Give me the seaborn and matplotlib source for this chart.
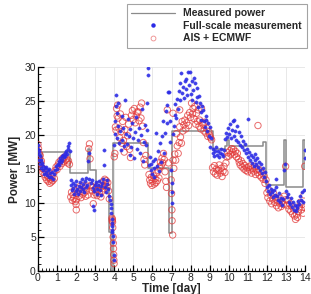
import matplotlib
matplotlib.use("Agg")
import matplotlib.pyplot as plt
import seaborn as sns
import pandas as pd
from matplotlib.ticker import MultipleLocator
from matplotlib.lines import Line2D

# ---------------- data ----------------
step_time = [0.0, 0.2, 1.68, 2.62, 2.75, 3.02, 3.72, 3.84, 3.93, 5.77, 6.88, 7.0,
             9.15, 9.8, 9.92, 10.02, 11.82, 11.97, 12.9, 12.98, 13.88, 13.97, 14.0]
step_power = [15.3, 17.5, 14.4, 18.0, 14.9, 12.2, 5.7, 0.0, 18.8, 15.2, 5.6, 20.6,
              17.9, 18.4, 19.3, 18.4, 19.0, 12.7, 19.3, 12.3, 19.2, 15.0, 15.0]

fs_time = [
    0.00, 0.02, 0.04, 0.06, 0.08, 0.10, 0.12, 0.15, 0.18, 0.21, 0.25, 0.28, 0.32, 0.36, 0.40,
    0.44, 0.48, 0.52, 0.56, 0.60, 0.65, 0.70, 0.75, 0.80, 0.85, 0.90, 0.95, 1.00, 1.04, 1.08,
    1.12, 1.16, 1.20, 1.24, 1.28, 1.32, 1.36, 1.40, 1.44, 1.48, 1.52, 1.56, 1.60, 1.64, 1.67,
    1.72, 1.75, 1.78, 1.82, 1.86, 1.90, 1.94, 1.98, 2.02, 2.06, 2.10, 2.14, 2.18, 2.22, 2.26,
    2.30, 2.34, 2.38, 2.42, 2.46, 2.50, 2.54, 2.58, 2.62, 2.66, 2.70,
    2.78, 2.82, 2.86, 2.90, 2.92, 2.95, 3.00, 3.04, 3.08, 3.12, 3.16, 3.20, 3.24, 3.28, 3.32,
    3.36, 3.40, 3.44, 3.48, 3.52, 3.56, 3.60, 3.64, 3.68, 3.72, 3.76,
    3.82, 3.84, 3.85, 3.86, 3.87, 3.88, 3.89, 3.90, 3.92, 3.94, 3.96, 3.97,
    4.00, 4.03, 4.06, 4.08, 4.10, 4.13, 4.16, 4.19, 4.22, 4.26, 4.30, 4.34, 4.38, 4.42, 4.46,
    4.50, 4.55, 4.60, 4.65, 4.70, 4.75, 4.80, 4.85, 4.90, 4.95, 5.00, 5.05, 5.10, 5.15, 5.20,
    5.25, 5.30, 5.35, 5.40, 5.45, 5.50, 5.55, 5.60, 5.65, 5.70, 5.74, 5.77, 5.78,
    5.82, 5.86, 5.90, 5.94, 5.98, 6.02, 6.06, 6.10, 6.15, 6.20, 6.25, 6.30, 6.35, 6.40, 6.45,
    6.50, 6.55, 6.60, 6.65, 6.70, 6.74, 6.78, 6.82, 6.87, 6.90, 6.93,
    6.98, 7.00, 7.02, 7.05,
    7.08, 7.12, 7.16, 7.20, 7.25, 7.30, 7.35, 7.40, 7.43, 7.47, 7.52, 7.56, 7.61, 7.65, 7.70,
    7.74, 7.78, 7.82, 7.87, 7.91, 7.96, 8.00, 8.05, 8.09, 8.13, 8.18, 8.22, 8.27, 8.31, 8.36,
    8.40, 8.44, 8.48, 8.52, 8.57, 8.61, 8.65, 8.70, 8.74, 8.79, 8.83, 8.88, 8.92, 8.96, 9.00,
    9.04, 9.08,
    9.15, 9.20, 9.25, 9.30, 9.35, 9.40, 9.45, 9.50, 9.55, 9.60, 9.65, 9.70, 9.75, 9.80, 9.85,
    9.90, 9.95, 10.00, 10.05, 10.10, 10.15, 10.20, 10.25, 10.30, 10.35, 10.40, 10.45, 10.50,
    10.55, 10.60, 10.65, 10.70, 10.75, 10.80, 10.85, 10.90, 11.01,
    10.95, 11.00, 11.05, 11.10, 11.15, 11.20, 11.25, 11.30, 11.35, 11.40, 11.45, 11.50, 11.55,
    11.60, 11.65, 11.70, 11.75, 11.80, 11.85, 11.90, 11.95,
    12.00, 12.05, 12.10, 12.15, 12.20, 12.25, 12.30, 12.35, 12.40, 12.45, 12.50, 12.55, 12.60,
    12.65, 12.70, 12.75, 12.80, 12.85, 12.90, 12.95, 13.00, 13.05, 13.10, 13.15, 13.20, 13.25,
    13.30, 13.35, 13.40, 13.45, 13.50, 13.55, 13.60, 13.65, 13.70, 13.75, 13.80, 13.85, 13.90,
    13.95, 13.98, 13.99,
]
fs_power = [
    17.9, 18.6, 17.2, 16.4, 17.6, 16.9, 15.8, 16.3, 15.2, 15.9, 14.8, 15.5, 14.3, 15.1, 14.6,
    15.3, 14.1, 14.9, 13.9, 15.0, 14.4, 13.8, 14.6, 13.6, 14.2, 14.8, 15.4, 15.0, 15.8, 16.2,
    15.6, 16.6, 16.1, 16.9, 16.4, 17.1, 16.7, 17.4, 16.9, 17.7, 17.2, 18.0, 18.4, 18.8, 17.6,
    13.4, 12.6, 11.9, 13.0, 12.2, 11.4, 12.7, 11.8, 13.3, 12.1, 11.3, 12.5, 13.1, 11.7, 12.4,
    13.6, 12.0, 12.8, 11.6, 13.2, 12.3, 13.7, 12.6, 16.2, 17.4, 13.5,
    12.9, 13.4, 12.2, 9.6, 9.0, 11.8, 12.6, 13.1, 12.0, 11.4, 12.7, 13.3, 11.9, 12.5, 11.2,
    12.9, 13.6, 15.6, 17.8, 12.3, 11.6, 12.8, 13.4, 12.1, 11.0, 10.4,
    9.8, 9.3, 8.6, 7.6, 7.0, 6.6, 6.1, 5.8, 5.1, 4.3, 2.4, 1.6,
    18.5, 20.2, 22.1, 24.2, 25.9, 23.3, 19.6, 24.7, 21.4, 18.9, 20.6, 17.8, 22.8, 19.3, 21.0,
    18.4, 25.1, 20.1, 18.7, 22.3, 19.8, 17.1, 20.9, 18.2, 21.7, 19.5, 16.6, 20.4, 22.6, 18.0,
    19.2, 21.1, 17.4, 20.0, 23.8, 16.2, 19.0, 21.5, 18.6, 20.7, 24.7, 28.9, 29.9,
    15.6, 16.8, 14.9, 15.8, 14.3, 16.2, 15.1, 13.9, 16.5, 20.3, 15.4, 17.6, 14.7, 18.9, 16.1,
    19.8, 22.1, 17.3, 20.3, 23.6, 21.7, 24.4, 26.4, 26.3, 22.0, 19.0,
    14.9, 13.0, 11.6, 10.0,
    20.2, 21.4, 23.0, 24.6, 22.5, 25.3, 23.8, 26.5, 25.1, 27.6, 29.1, 26.2, 27.1, 25.4, 28.0,
    26.8, 28.3, 25.9, 29.3, 27.4, 29.2, 26.1, 27.9, 25.2, 26.6, 28.4, 27.6, 24.9, 25.6, 26.9,
    24.1, 25.8, 24.7, 22.2, 23.4, 24.3, 23.7, 22.0, 21.2, 22.8, 22.2, 20.6, 21.7, 19.8, 21.2,
    18.3, 19.5,
    17.3, 17.9, 16.9, 17.6, 18.2, 17.0, 17.7, 16.8, 17.4, 18.0, 17.2, 16.9, 17.8, 19.4, 20.3,
    19.7, 21.0, 20.1, 21.6, 19.5, 20.8, 22.0, 19.9, 22.2, 20.6, 19.3, 21.3, 19.0,
    20.4, 18.6, 19.8, 18.2, 19.1, 17.8, 18.7, 17.4, 22.4,
    17.9, 16.8, 17.5, 16.3, 17.1, 15.9, 16.7, 15.5, 16.4, 17.2, 15.8, 16.6, 15.3,
    16.1, 14.9, 15.7, 14.4, 15.2, 13.9, 14.6, 13.2,
    12.4, 11.8, 12.6, 11.3, 12.1, 11.6, 10.9, 11.9, 11.2, 12.3, 13.6, 11.0, 10.4,
    11.5, 10.1, 10.8, 9.7, 10.6, 14.9, 15.8, 11.7, 10.9, 11.4, 10.2, 9.8, 10.7,
    9.4, 10.1, 9.0, 9.7, 8.8, 9.5, 9.2, 10.3, 9.9, 11.0, 10.5, 11.6, 10.2,
    11.9, 17.8, 16.6,
]

ais_time = [
    0.00, 0.03, 0.06, 0.09, 0.12, 0.15, 0.18, 0.22, 0.26, 0.30, 0.34, 0.38, 0.42, 0.46, 0.50,
    0.54, 0.58, 0.62, 0.66, 0.70, 0.74, 0.78, 0.82, 0.86, 0.90, 0.95, 1.00, 1.05, 1.10, 1.15,
    1.20, 1.25, 1.30, 1.35, 1.40, 1.45, 1.50, 1.55, 1.60, 1.65,
    1.72, 1.76, 1.80, 1.84, 1.88, 1.92, 1.96, 2.00, 2.01, 2.02, 2.06, 2.10, 2.14, 2.18, 2.22,
    2.26, 2.30, 2.34, 2.38, 2.42, 2.46, 2.50, 2.54, 2.58, 2.62, 2.66, 2.70, 2.73,
    2.78, 2.82, 2.86, 2.90, 2.94, 2.98, 3.02, 3.06, 3.10, 3.14, 3.18, 3.22, 3.26, 3.30, 3.34,
    3.38, 3.42, 3.46, 3.50, 3.54, 3.58, 3.62, 3.66, 3.70, 3.74,
    3.88, 3.89, 3.90, 3.91, 3.92, 3.94, 3.95, 3.96, 3.97, 3.98, 3.99,
    4.00, 4.03, 4.06, 4.09, 4.12, 4.15, 4.18, 4.21, 4.24, 4.28, 4.32, 4.36, 4.40, 4.44, 4.48,
    4.52, 4.56, 4.60, 4.65, 4.70, 4.75, 4.80, 4.85, 4.90, 4.95, 5.00, 5.05, 5.10, 5.15, 5.20,
    5.25, 5.30, 5.35, 5.40, 5.43, 5.48, 5.52, 5.56, 5.60, 5.65,
    5.82, 5.86, 5.90, 5.94, 5.98, 6.02, 6.06, 6.10, 6.14, 6.18, 6.22, 6.26, 6.30, 6.34, 6.38,
    6.42, 6.46, 6.50, 6.54, 6.58, 6.62, 6.66, 6.70, 6.74, 6.78, 6.84,
    6.98, 7.00, 7.02, 7.03, 7.06,
    7.08, 7.12, 7.17, 7.22, 7.26, 7.30, 7.35, 7.40, 7.43, 7.47, 7.52, 7.56, 7.60, 7.65, 7.70,
    7.75, 7.80, 7.85, 7.90, 7.95, 8.00, 8.05, 8.10, 8.13, 8.18, 8.22, 8.27, 8.31, 8.36, 8.40,
    8.44, 8.48, 8.53, 8.57, 8.62, 8.66, 8.70, 8.75, 8.80, 8.85, 8.90, 8.95, 9.00, 9.05, 9.10,
    7.08, 7.43,
    9.15, 9.20, 9.25, 9.30, 9.35, 9.40, 9.45, 9.50, 9.55, 9.60, 9.65, 9.70, 9.75, 9.80, 9.85,
    9.90, 9.95, 10.00, 10.05, 10.10, 10.15, 10.20, 10.25, 10.30, 10.35, 10.40, 10.45, 10.50,
    10.55, 10.60, 10.65, 10.70, 10.75, 10.80, 10.85, 10.90,
    10.95, 11.00, 11.05, 11.10, 11.15, 11.20, 11.25, 11.30, 11.35, 11.40, 11.45, 11.50, 11.53,
    11.55, 11.60, 11.65, 11.70, 11.75, 11.80, 11.85, 11.90, 11.95,
    12.00, 12.05, 12.10, 12.15, 12.20, 12.25, 12.30, 12.35, 12.40, 12.45, 12.50, 12.55, 12.60,
    12.65, 12.70, 12.75, 12.80, 12.85, 12.90, 12.98, 13.00, 13.05, 13.10, 13.15, 13.20, 13.25,
    13.30, 13.35, 13.40, 13.45, 13.50, 13.55, 13.60, 13.65, 13.70, 13.75, 13.80, 13.85, 13.90,
    13.95, 13.98, 13.99,
]
ais_power = [
    18.6, 18.0, 17.3, 16.5, 17.0, 15.8, 16.2, 15.1, 14.5, 15.0, 14.2, 13.8, 14.6, 13.4, 14.0,
    13.2, 13.7, 12.9, 13.5, 13.1, 13.9, 13.3, 14.4, 13.6, 14.8, 15.3, 14.9, 15.6, 16.0, 15.4,
    16.3, 15.8, 16.6, 16.1, 16.8, 16.3, 16.5, 15.9, 16.2, 15.7,
    10.9, 11.6, 10.4, 11.2, 10.7, 11.9, 10.2, 9.8, 9.0, 10.5, 11.4, 12.1, 11.0, 12.4, 11.7,
    10.8, 12.0, 11.3, 12.6, 11.5, 12.2, 11.0, 11.8, 12.5, 11.2, 18.0, 18.7, 16.5,
    12.6, 11.8, 12.3, 9.9, 11.2, 12.0, 11.5, 12.4, 11.1, 11.9, 12.7, 11.4, 12.2, 10.9, 11.7,
    12.5, 13.2, 12.1, 13.5, 12.8, 13.3, 12.4, 13.0, 11.8, 10.6,
    7.8, 7.4, 7.6, 7.2, 6.4, 5.0, 4.1, 3.3, 2.4, 1.6, 1.1,
    16.8, 17.3, 21.2, 20.7, 23.9, 22.8, 24.4, 22.5, 21.0, 19.6, 23.1, 20.5, 18.8, 22.0, 19.2,
    17.5, 20.8, 22.6, 18.3, 19.9, 21.6, 17.9, 16.7, 22.9, 23.6, 22.3, 23.9, 21.8, 22.8, 23.4,
    23.4, 22.1, 24.1, 22.5, 24.7, 21.3, 18.9, 16.4, 15.6, 17.0,
    14.2, 13.4, 12.9, 13.8, 12.6, 13.2, 14.0, 12.8, 13.6, 13.0, 14.4, 13.3, 14.8, 13.7, 15.3,
    16.0, 15.5, 16.6, 15.9, 17.3, 16.4, 14.6, 13.2, 12.3, 23.7, 15.9,
    13.4, 11.4, 9.0, 7.4, 5.3,
    16.3, 15.1, 17.2, 16.3, 20.2, 18.4, 17.3, 18.9, 21.2, 19.7, 18.8, 22.0, 20.6, 21.5, 22.2,
    20.9, 21.8, 22.9, 21.4, 23.3, 22.6, 24.7, 23.1, 23.9, 22.4, 24.2, 21.6, 23.2, 22.0, 23.7,
    21.3, 22.2, 20.9, 23.9, 21.8, 21.5, 20.6, 21.9, 20.3, 21.0, 19.8, 20.5, 20.0, 19.6, 19.3,
    23.2, 23.7,
    15.2, 14.6, 15.5, 14.3, 15.0, 14.1, 14.8, 15.6, 14.4, 15.1, 13.9, 14.7, 15.4, 14.5, 15.9,
    16.8, 17.4, 16.9, 17.7, 17.2, 18.0, 17.5, 17.9, 17.1, 17.6, 16.8, 17.3, 16.5,
    16.0, 15.6, 16.2, 15.3, 15.8, 15.0, 15.5, 14.8,
    15.2, 14.6, 15.3, 14.9, 15.5, 14.4, 15.1, 14.7, 15.4, 14.2, 14.9, 14.5, 21.4,
    15.0, 14.1, 14.7, 13.8, 14.4, 13.5, 14.0, 12.9, 13.4,
    11.5, 10.8, 11.9, 10.3, 11.2, 9.9, 10.6, 11.4, 10.1, 10.8, 9.6, 10.4, 9.3,
    10.0, 10.7, 9.5, 10.2, 9.8, 11.0, 15.4, 10.5, 9.7, 10.4, 9.1, 9.9, 8.8,
    9.5, 8.4, 9.1, 8.1, 7.6, 8.3, 7.9, 8.7, 9.4, 10.1, 9.0, 9.8, 8.5,
    11.2, 15.4, 9.3,
]

x_ticks = list(range(0, 15))
y_ticks = [0, 5, 10, 15, 20, 25, 30]

# ---------------- plot ----------------
sns.set_theme(style="white")
plt.rcParams["font.family"] = ["Liberation Sans", "DejaVu Sans"]

fig = plt.figure(figsize=(3.11, 2.94), dpi=100)
ax = fig.add_axes([0.122, 0.078, 0.859, 0.694])

step_df = pd.DataFrame({"t": step_time, "p": step_power})
fs_df = pd.DataFrame({"t": fs_time, "p": fs_power})
ais_df = pd.DataFrame({"t": ais_time, "p": ais_power})

line_color = "#8a8a8a"
blue = "#2b2be6"
red = "#e23a3a"

sns.lineplot(data=step_df, x="t", y="p", ax=ax, color=line_color, linewidth=1.1,
             drawstyle="steps-post", estimator=None, sort=False, zorder=2)
sns.scatterplot(data=ais_df, x="t", y="p", ax=ax, s=21, marker="o",
                facecolors="none", edgecolor=red, linewidth=0.7, alpha=0.75, zorder=3)
sns.scatterplot(data=fs_df, x="t", y="p", ax=ax, s=6, marker="o",
                color=blue, edgecolor=blue, linewidth=0.2, alpha=0.9, zorder=4)

ax.set_xlim(0, 14)
ax.set_ylim(0, 30)
ax.set_xticks(x_ticks)
ax.set_yticks(y_ticks)
ax.xaxis.set_minor_locator(MultipleLocator(0.2))
ax.yaxis.set_minor_locator(MultipleLocator(1))
ax.tick_params(which="major", direction="in", length=4, width=0.9, color="black",
               labelsize=7.5, pad=1.5, top=False, right=False, bottom=True, left=True)
ax.tick_params(which="minor", direction="in", length=2, width=0.6, color="black",
               top=False, right=False, bottom=True, left=True)
ax.grid(True, which="major", color="#e4e4e4", linewidth=0.6)
ax.set_axisbelow(True)
for side in ["top", "right"]:
    ax.spines[side].set_visible(False)
for side in ["left", "bottom"]:
    ax.spines[side].set_color("black")
    ax.spines[side].set_linewidth(0.9)

ax.set_xlabel("Time [day]", fontsize=8.5, fontweight="bold", labelpad=0)
ax.set_ylabel("Power [MW]", fontsize=8.5, fontweight="bold", labelpad=2)

handles = [
    Line2D([], [], color=line_color, linewidth=0.9),
    Line2D([], [], linestyle="none", marker="o", markersize=2.2, color=blue),
    Line2D([], [], linestyle="none", marker="o", markersize=3.5, markerfacecolor="none",
           markeredgecolor=red, markeredgewidth=0.6, alpha=0.6),
]
labels = ["Measured power", "Full-scale measurement", "AIS + ECMWF"]
leg = fig.legend(handles, labels, loc="upper right", bbox_to_anchor=(0.986, 0.988),
                 frameon=True, fancybox=False, edgecolor="#8c8c8c",
                 prop={"size": 7.5, "weight": "bold"}, handlelength=4.2,
                 handletextpad=0.8, labelspacing=0.25, borderpad=0.45, borderaxespad=0)
leg.get_frame().set_linewidth(0.8)

fig.savefig("out.png", dpi=100)
